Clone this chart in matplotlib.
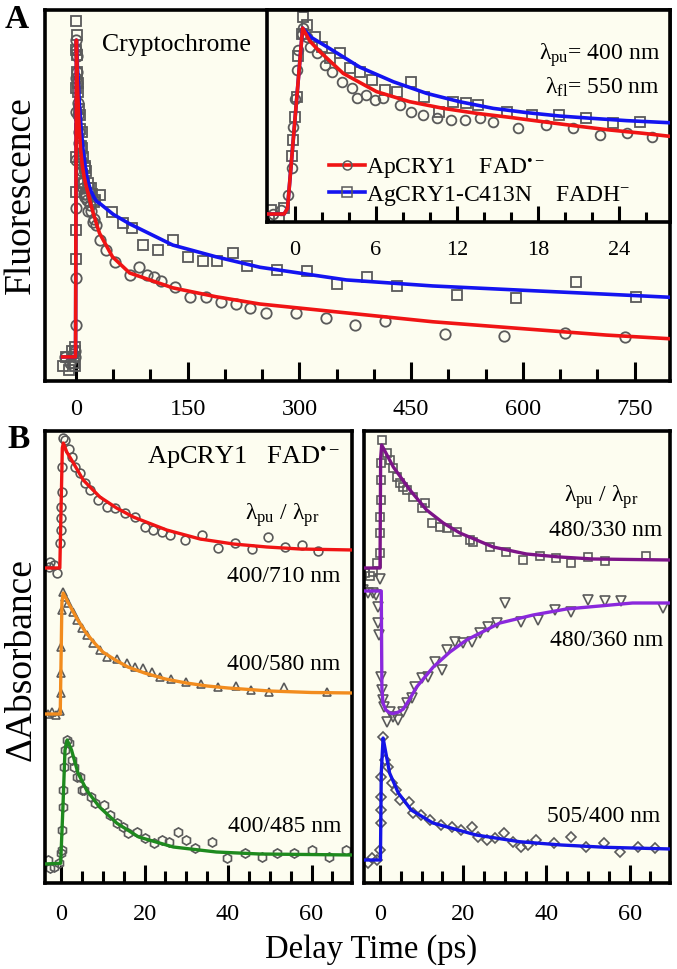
import matplotlib
matplotlib.use('Agg')
import matplotlib.pyplot as plt
from matplotlib.ticker import MultipleLocator
from matplotlib.lines import Line2D

plt.rcParams['font.family'] = ['Liberation Serif', 'DejaVu Serif']
plt.rcParams['mathtext.fontset'] = 'custom'
plt.rcParams['mathtext.rm'] = 'Liberation Serif'
plt.rcParams['mathtext.it'] = 'Liberation Serif:italic'
plt.rcParams['mathtext.bf'] = 'Liberation Serif:bold'

# ---------------- Panel A data (normalized fluorescence) ----------------
ap_t = [-15, -8, -4, -1.6, -1.0, -0.5, -0.25, -0.12, 0.0, 0.12, 0.25, 0.5, 0.62, 0.86,
        1.11, 1.6, 2.22, 2.72, 3.46, 4.2, 4.57, 5.3, 5.93, 6.54, 7.78, 8.64, 9.5, 10.5,
        11.6, 12.6, 13.7, 14.7, 16.5, 18.6, 20.6, 22.6, 24.6, 26.5, 31.7, 40.3, 52,
        72.5, 84, 95, 105, 114, 133, 153, 175, 195, 215, 234, 255, 295, 336, 375, 415,
        496, 575, 657, 737]
ap_y = [0.0, -0.02, 0.01, 0.0, 0.02, 0.1, 0.25, 0.47, 0.62, 0.774, 0.88, 0.97, 1.0, 0.95,
        0.90, 0.864, 0.80, 0.765, 0.711, 0.676, 0.622, 0.64, 0.613, 0.622, 0.586, 0.55,
        0.532, 0.514, 0.505, 0.505, 0.514, 0.496, 0.46, 0.478, 0.46, 0.425, 0.434, 0.416,
        0.37, 0.338, 0.30, 0.259, 0.284, 0.259, 0.252, 0.240, 0.221, 0.189, 0.189, 0.174,
        0.167, 0.155, 0.139, 0.139, 0.123, 0.101, 0.114, 0.073, 0.066, 0.076, 0.063]

ag_t = [-18, -14, -10, -6, -3, -1.8, -1.2, -0.8, -0.25, -0.12, 0.0, 0.12, 0.25, 0.5, 0.62,
        0.86, 1.48, 2.0, 2.6, 3.33, 4.07, 4.8, 5.7, 6.7, 7.6, 8.6, 9.6, 10.7, 11.7, 12.7,
        13.6, 15.7, 17.6, 19.6, 21.6, 23.6, 25.6, 31.7, 48, 63.6, 75, 90, 110, 130, 151,
        170, 190, 211, 230, 270, 310, 350, 391, 431, 511, 591, 671, 752]
ag_y = [-0.03, 0.0, -0.04, 0.02, -0.02, 0.02, -0.03, 0.03, 0.31, 0.40, 0.52, 0.63, 0.85,
        0.97, 1.06, 1.016, 0.953, 0.90, 0.837, 0.864, 0.783, 0.765, 0.72, 0.667, 0.658,
        0.711, 0.63, 0.55, 0.604, 0.595, 0.586, 0.55, 0.532, 0.532, 0.514, 0.489, 0.496,
        0.511, 0.458, 0.422, 0.407, 0.353, 0.338, 0.369, 0.315, 0.304, 0.304, 0.329,
        0.287, 0.274, 0.272, 0.229, 0.253, 0.224, 0.196, 0.185, 0.236, 0.19]

ap_fit_t = [-18, -0.8, -0.55, 0.57, 1.1, 1.85, 3.58, 6.05, 8.5, 11, 13.5, 15.9, 18.4, 20.9,
            23.3, 25.8, 28, 31.7, 49, 72, 130, 188, 247, 363, 479, 595, 712, 800]
ap_fit_y = [0.0, 0.0, 0.03, 1.0, 0.93, 0.873, 0.756, 0.658, 0.604, 0.568, 0.541, 0.52,
            0.496, 0.473, 0.452, 0.434, 0.416, 0.39, 0.316, 0.265, 0.218, 0.19, 0.167,
            0.139, 0.111, 0.09, 0.069, 0.057]
ag_fit_t = [-18, -0.8, -0.55, 0.57, 1.2, 2.35, 4.8, 7.3, 9.75, 12.2, 14.7, 17.2, 19.6, 22.1,
            24.6, 28, 31.7, 50, 72, 130, 188, 247, 363, 479, 595, 712, 800]
ag_fit_y = [0.0, 0.0, 0.03, 1.0, 0.95, 0.9, 0.79, 0.711, 0.649, 0.604, 0.568, 0.545, 0.527,
            0.514, 0.502, 0.49, 0.485, 0.45, 0.42, 0.353, 0.316, 0.283, 0.243, 0.224,
            0.211, 0.198, 0.188]

# ---------------- Panel B data (ΔA, offset traces, arb. units) ----------------
b710_t = [-3.0, -2.6, -1.8, -1.0, -0.2, -0.1, 0.0, 0.1, 0.2, 0.3, 0.55, 0.96, 1.8, 2.56,
          3.35, 4.55, 5.75, 6.95, 8.93, 10.9, 12.9, 15.3, 17.7, 20.1, 22.0, 24.1, 26.1,
          29.7, 33.7, 37.7, 41.7, 45.7, 49.6, 53.7, 57.7, 61.6]
b710_y = [31.6, 32.1, 31.8, 31.0, 34.0, 35.3, 36.5, 37.6, 39.1, 41.6, 44.5, 44.3, 43.4,
          42.6, 41.6, 41.0, 40.0, 39.3, 38.3, 37.6, 37.5, 37.0, 36.6, 35.6, 35.3, 35.1,
          34.8, 34.3, 34.8, 33.5, 34.0, 33.4, 34.6, 33.6, 33.8, 33.2]
b710_fit_t = [-4, -0.3, 0.3, 0.55, 1.36, 2.95, 5.3, 9.3, 13.3, 17.3, 25.3, 33.3, 41.3, 49.3,
              57.2, 70]
b710_fit_y = [31.5, 31.5, 43.5, 44.0, 43.1, 42.0, 40.3, 38.6, 37.5, 36.6, 35.3, 34.4, 33.9,
              33.6, 33.4, 33.3]

b580_t = [-3.2, -2.2, -1.1, -0.3, 0.0, 0.05, 0.1, 0.15, 0.55, 0.96, 1.76, 2.8, 3.76, 4.95,
          6.15, 7.7, 9.3, 10.9, 13.3, 15.7, 17.7, 19.7, 21.7, 23.7, 26.3, 30.0, 33.6, 37.7,
          41.9, 45.5, 49.7, 53.5, 63.7]
b580_y = [16.9, 17.1, 16.8, 17.2, 19.0, 21.0, 23.6, 27.3, 29.1, 28.6, 28.0, 27.1, 26.3,
          25.5, 24.8, 24.0, 23.3, 22.6, 22.4, 22.0, 21.6, 21.5, 21.1, 20.6, 20.4, 20.1,
          19.9, 19.6, 19.7, 19.3, 19.1, 19.6, 19.1]
b580_fit_t = [-4, -0.2, 0.2, 0.5, 2, 4, 6, 8, 10, 13, 16, 20, 25, 30, 35, 40, 50, 60, 70]
b580_fit_y = [16.9, 16.9, 28.0, 29.0, 27.8, 26.3, 25.0, 24.0, 23.1, 22.3, 21.6, 21.0, 20.4,
              20.0, 19.7, 19.5, 19.2, 19.05, 19.0]

b485_t = [-3.2, -2.6, -1.65, -0.6, 0.0, 0.2, 0.25, 0.42, 0.45, 0.73, 0.94, 1.46, 2.0, 2.5,
          3.0, 3.85, 4.57, 5.1, 5.6, 7.2, 8.2, 10.3, 11.8, 13.4, 14.9, 16.0, 18.1, 20.1,
          22.2, 24.3, 25.8, 27.9, 30.0, 32.0, 36.2, 39.8, 44.0, 48.1, 51.8, 55.9, 60.0,
          64.2, 68.3]
b485_y = [2.3, 1.5, 1.63, 1.97, 3.0, 3.3, 5.3, 7.6, 9.3, 11.6, 13.3, 14.3, 13.97, 12.3,
          11.6, 10.6, 10.6, 9.3, 9.3, 8.6, 8.0, 7.8, 6.8, 5.97, 5.6, 5.0, 5.1, 4.5, 4.0, 4.3,
          4.13, 5.1, 4.3, 3.5, 4.13, 2.5, 3.0, 2.63, 3.0, 3.0, 3.3, 2.63, 3.3]
b485_fit_t = [-4, -0.1, 0.42, 0.94, 1.46, 2.5, 4.05, 6.1, 9.2, 13.4, 18.6, 26.9, 37.2, 47.6, 70]
b485_fit_y = [1.9, 1.97, 7.3, 13.3, 14.3, 13.3, 11.0, 9.3, 7.6, 5.97, 4.6, 3.6, 3.1, 2.9, 2.8]

b330_t = [-3.6, -2.4, -1.6, -0.8, 0.0, 0.05, 0.1, 0.15, 0.2, 0.3, 0.4, 1.6, 2.4, 3.2, 4.0,
          4.8, 5.6, 6.4, 8.0, 10.0, 10.8, 12.4, 14.4, 16.0, 18.4, 21.6, 22.4, 26.4, 30.4,
          34.4, 38.4, 42.4, 46.0, 50.0, 54.0, 64.0]
b330_y = [31.0, 30.7, 31.1, 32.0, 33.0, 35.0, 36.6, 38.3, 40.3, 42.0, 44.3, 43.0, 42.3,
          41.5, 40.6, 40.0, 39.6, 39.3, 38.6, 37.5, 38.0, 36.0, 35.6, 35.5, 35.1, 34.3,
          34.1, 33.6, 33.1, 32.3, 32.7, 32.5, 32.0, 32.6, 32.2, 32.7]
b330_fit_t = [-4, 0.0, 0.15, 0.4, 3.2, 7.2, 11.2, 15.2, 19.2, 27.2, 35.2, 43.2, 51.2, 70]
b330_fit_y = [31.5, 31.5, 42.5, 43.8, 41.6, 39.3, 37.3, 36.0, 35.0, 33.6, 32.9, 32.6, 32.4, 32.3]

b360_t = [-4.0, -2.8, -1.6, -1.0, -0.6, -0.4, -0.2, -0.1, 0.2, 0.4, 0.6, 1.0, 1.6, 2.4,
          3.2, 4.4, 5.6, 6.4, 7.6, 8.4, 10.0, 11.6, 13.2, 14.8, 16.0, 18.0, 20.0, 22.0,
          24.0, 26.0, 28.0, 30.0, 34.0, 38.0, 42.0, 46.0, 50.0, 54.0, 58.0, 68.0]
b360_y = [29.3, 29.0, 29.0, 28.8, 27.6, 26.0, 24.8, 30.4, 20.6, 19.3, 18.3, 17.6, 16.1,
          17.1, 16.6, 16.3, 17.1, 18.0, 18.5, 19.6, 20.5, 20.6, 22.1, 21.3, 23.3, 24.1,
          24.0, 24.1, 25.0, 25.6, 26.0, 28.0, 26.1, 26.3, 27.3, 27.1, 28.3, 28.2, 28.2, 27.5]
b360_fit_t = [-4, 0.3, 0.45, 0.7, 1.4, 2.4, 3.2, 4.5, 5.6, 7.0, 8.8, 12.8, 16.8, 20.8, 28.8,
              36.8, 44.8, 52.8, 60.7, 70]
b360_fit_y = [29.2, 29.2, 19.5, 18.0, 17.3, 17.0, 16.95, 17.1, 17.4, 18.3, 19.6, 21.6, 23.1,
              24.3, 26.0, 26.8, 27.4, 27.7, 28.0, 28.0]

b400_t = [-2.9, -1.9, -0.8, 0.1, 0.12, 0.15, 0.17, 0.2, 0.74, 1.27, 1.8, 2.8, 3.87, 4.9,
          7.0, 8.0, 9.9, 12.0, 14.6, 17.2, 19.4, 22.0, 23.6, 25.7, 27.7, 29.8, 31.9, 34.0,
          35.5, 37.6, 41.8, 45.9, 49.6, 53.8, 57.8, 62.0, 66.2]
b400_y = [2.0, 2.5, 2.3, 3.3, 6.0, 7.3, 8.6, 10.6, 14.6, 12.3, 11.6, 9.97, 9.3, 8.3, 8.1,
          6.97, 6.8, 6.3, 5.8, 5.6, 5.3, 5.6, 4.6, 4.3, 4.5, 5.0, 4.13, 3.6, 3.8, 4.3, 3.97,
          4.6, 3.6, 3.97, 3.13, 3.6, 3.47]
b400_fit_t = [-4, 0.1, 0.3, 0.74, 1.27, 2.3, 4.4, 7.5, 12.7, 23.1, 33.5, 43.6, 54.2, 70]
b400_fit_y = [2.3, 2.3, 11.0, 14.5, 13.3, 11.0, 9.0, 7.3, 6.0, 4.8, 4.13, 3.8, 3.57, 3.4]

# ---------------- style ----------------
BG = '#fdfdf0'
EDGE = '#5a5a5a'
RED = '#f01414'
BLUE = '#1414f0'
ORANGE = '#f28c1e'
GREEN = '#1e8a1e'
PURPLE = '#7d1488'
VIOLET = '#8a28dc'
BLUE2 = '#1414e6'

W, H = 677, 969
fig = plt.figure(figsize=(W / 100, H / 100), dpi=100)


def rect(l, t, r, b):
    return [l / W, 1 - b / H, (r - l) / W, (b - t) / H]


def style(ax, major, minor, L, l, size=17.5, pad=7):
    ax.set_facecolor(BG)
    for s in ax.spines.values():
        s.set_linewidth(2.6)
        s.set_color('k')
    ax.xaxis.set_major_locator(MultipleLocator(major))
    ax.xaxis.set_minor_locator(MultipleLocator(minor))
    ax.tick_params(axis='x', which='major', direction='in', length=L, width=2.2,
                   color='black', labelsize=size, pad=pad)
    ax.tick_params(axis='x', which='minor', direction='in', length=l, width=2.2,
                   color='black')
    ax.set_yticks([])


def draw(ax, t, y, ft, fy, color, marker, ms, lw=2.4, mew=1.2):
    ax.plot(t, y, linestyle='none', marker=marker, ms=ms, mfc='none', mec=EDGE, mew=mew,
            zorder=2)
    ax.plot(ft, fy, color=color, lw=lw, zorder=3)


axA = fig.add_axes(rect(45, 10, 670, 381))
axI = fig.add_axes(rect(267, 10, 670, 222))
axB1 = fig.add_axes(rect(45, 431, 352, 883))
axB2 = fig.add_axes(rect(364, 431, 670, 883))

for ax, ms in ((axA, 7.5), (axI, 7)):
    ax.plot(ag_t, ag_y, linestyle='none', marker='s', ms=ms, mfc='none', mec=EDGE, mew=1.3, zorder=2)
    ax.plot(ap_t, ap_y, linestyle='none', marker='o', ms=ms, mfc='none', mec=EDGE, mew=1.3, zorder=2)
    ax.plot(ag_fit_t, ag_fit_y, color=BLUE, lw=2.6, zorder=3)
    ax.plot(ap_fit_t, ap_fit_y, color=RED, lw=2.6, zorder=4)

axA.set_xlim(-41.6, 797.6)
axA.set_ylim(-0.076, 1.095)
axI.set_xlim(-2.07, 27.8)
axI.set_ylim(-0.043, 1.097)

draw(axB1, b710_t, b710_y, b710_fit_t, b710_fit_y, RED, 'o', 6.3)
draw(axB1, b580_t, b580_y, b580_fit_t, b580_fit_y, ORANGE, '^', 6.3)
draw(axB1, b485_t, b485_y, b485_fit_t, b485_fit_y, GREEN, 'h', 6.6)
draw(axB2, b330_t, b330_y, b330_fit_t, b330_fit_y, PURPLE, 's', 6.0)
draw(axB2, b360_t, b360_y, b360_fit_t, b360_fit_y, VIOLET, 'v', 6.6)
draw(axB2, b400_t, b400_y, b400_fit_t, b400_fit_y, BLUE2, 'D', 5.6)
for ax in (axB1, axB2):
    ax.set_xlim(-3.85, 69.7)
    ax.set_ylim(0, 45.2)

style(axA, 150, 50, 13.5, 8.5, pad=13)
style(axI, 6, 2, 11.5, 7, size=16, pad=14)
style(axB1, 20, 5, 13, 8.5, pad=15)
style(axB2, 20, 5, 13, 8.5, pad=15)

# legend in the inset
handles = [Line2D([], [], color=RED, lw=2.6, marker='o', ms=6.5, mfc='none', mec=EDGE, mew=1.1),
           Line2D([], [], color=BLUE, lw=2.6, marker='s', ms=6.5, mfc='none', mec=EDGE, mew=1.1)]
labels = ['ApCRY1    FAD$^{\u2022\u2212}$', 'AgCRY1-C413N    FADH$^{\u2212}$']
axI.legend(handles, labels, loc='upper left', bbox_to_anchor=(0.155, 0.312), frameon=False,
           fontsize=17, handlelength=1.5, handletextpad=0.05, labelspacing=0.12,
           borderaxespad=0, borderpad=0, numpoints=1)


def ftext(x, y, s, **kw):
    fig.text(x / W, 1 - y / H, s, **kw)


ftext(17, 20, 'A', fontsize=24, fontweight='bold', ha='center', va='center')
ftext(19, 440, 'B', fontsize=24, fontweight='bold', ha='center', va='center')
ftext(102, 45, 'Cryptochrome', fontsize=18.5, ha='left', va='center')
ftext(660, 55, 'λ$_{\\rm pu}$= 400 nm', fontsize=17, ha='right', va='center')
ftext(660, 87, 'λ$_{\\rm fl}$= 550 nm', fontsize=17, ha='right', va='center')

ftext(340, 458, 'ApCRY1   FAD$^{\u2022\u2212}$', fontsize=19, ha='right', va='center')
ftext(282, 515, 'λ$_{\\rm pu}$ / λ$_{\\rm pr}$', fontsize=17, ha='center', va='center')
ftext(340, 577, '400/710 nm', fontsize=17, ha='right', va='center')
ftext(340, 665, '400/580 nm', fontsize=17, ha='right', va='center')
ftext(341, 827, '400/485 nm', fontsize=17, ha='right', va='center')
ftext(601, 497, 'λ$_{\\rm pu}$ / λ$_{\\rm pr}$', fontsize=17, ha='center', va='center')
ftext(662, 530, '480/330 nm', fontsize=17, ha='right', va='center')
ftext(663, 641, '480/360 nm', fontsize=17, ha='right', va='center')
ftext(660, 817, '505/400 nm', fontsize=17, ha='right', va='center')

ftext(21, 195, 'Fluorescence', fontsize=27, rotation=90, ha='center', va='center')
ftext(21, 660, 'ΔAbsorbance', fontsize=27, rotation=90, ha='center', va='center')
ftext(371, 950, 'Delay Time (ps)', fontsize=23.5, ha='center', va='center')

fig.savefig('out.png', dpi=100, facecolor='white')
